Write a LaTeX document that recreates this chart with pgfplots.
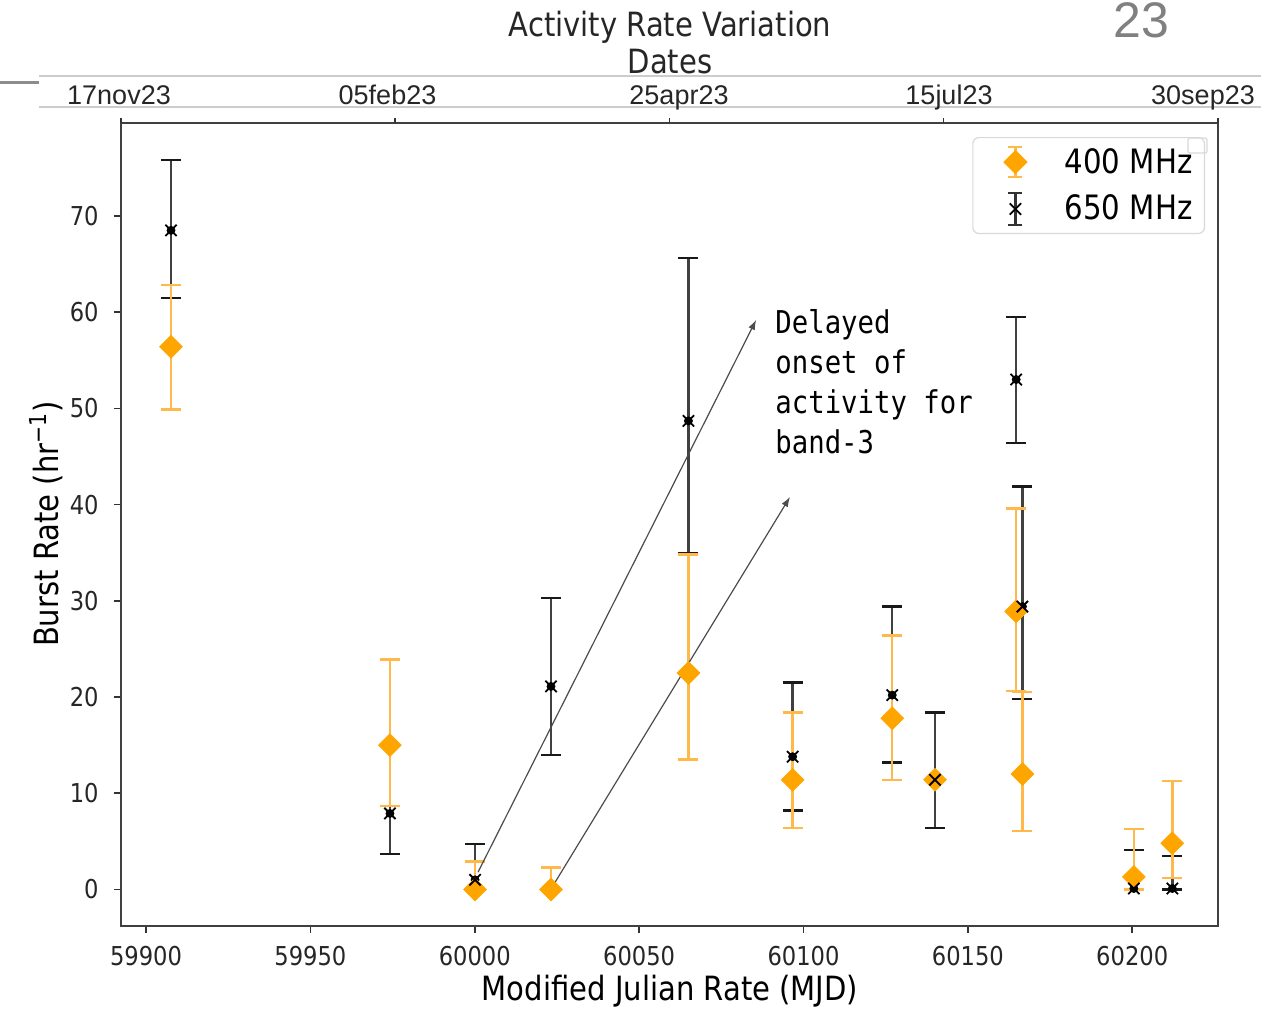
\documentclass[border=0pt]{standalone}
\usepackage{fontspec}
\setmainfont{DejaVu Sans}[FakeStretch=0.87]
\setmonofont{DejaVu Sans Mono}[FakeStretch=0.87]
\newfontfamily\datefont{Liberation Sans}
\usepackage{pgfplots}
\pgfplotsset{compat=1.18}
\usetikzlibrary{arrows.meta}
\definecolor{mplorange}{HTML}{FFA500}
\definecolor{errorange}{HTML}{FFB84A}
\pgfplotstableread{
x y up down
59907.6 68.5 7.3 7.0
59974.2 7.9 7.1 4.2
60000.1 1.0 3.7 1.0
60023.2 21.1 9.2 7.1
60065.0 48.7 16.9 13.8
60096.7 13.8 7.7 5.6
60127.0 20.2 9.2 7.0
60140.0 11.4 7.0 5.0
60164.7 53.0 6.5 6.6
60166.6 29.4 12.5 9.6
60200.5 0.1 4.0 0.1
60212.2 0.1 3.4 0.1
}\blackdata
\pgfplotstableread{
x y up down
59907.6 56.4 6.4 6.5
59974.2 15.0 8.9 6.3
60000.1 0.0 2.9 0
60023.2 0.0 2.3 0
60065.0 22.5 12.3 9.0
60096.7 11.4 7.0 5.0
60127.0 17.8 8.6 6.4
60140.0 11.4 0 0
60164.7 28.9 10.7 8.3
60166.6 12.0 8.5 5.9
60200.5 1.3 5.0 1.3
60212.2 4.8 6.5 3.6
}\orangedata
\begin{document}
\begin{tikzpicture}
\begin{axis}[
  at={(60.35pt,-463pt)}, anchor=south west,
  scale only axis, width=548.65pt, height=401.7pt,
  xmin=59892.3, xmax=60226.1, ymin=-3.8, ymax=79.7,
  xtick={59900,59950,60000,60050,60100,60150,60200},
  ytick={0,10,20,30,40,50,60,70},
  tick align=outside, xtick pos=bottom, ytick pos=left,
  major tick length=3.5pt,
  every tick/.style={line width=0.8pt, black!80},
  axis line style={line width=1pt, black!75},
  tick label style={font=\fontsize{13}{15}\selectfont, black!85},
  xticklabel style={yshift=-3pt},
  yticklabel style={xshift=-4pt},
  /pgf/number format/assume math mode=true,
  /pgf/number format/set thousands separator={},
  scaled x ticks=false,
  clip=false,
  legend style={at={(0.98815,0.98208)}, anchor=north east, draw=black!15,
    rounded corners=3pt, line width=0.6pt, font=\fontsize{16.8}{18}\selectfont,
    inner xsep=4pt, inner ysep=3.25pt, row sep=5.5pt, column sep=17pt,
    cells={anchor=west}, nodes={inner sep=2pt}},
]
% black error bars (650 MHz) underneath
\addplot[black, only marks, mark=none, forget plot,
  error bars/.cd, y dir=both, y explicit,
  error bar style={line width=1.2pt, black!75},
  error mark options={rotate=90, mark size=5pt, line width=1.2pt, black!90}]
  table[x=x, y=y, y error plus=up, y error minus=down] {\blackdata};
% orange 400 MHz
\addplot[mplorange, only marks, mark=square*, mark size=4pt,
  mark options={rotate=45, fill=mplorange, draw=mplorange},
  legend image code/.code={
    \draw[errorange, line width=1.2pt] (0pt,-7.5pt) -- (0pt,7.5pt) (-3.5pt,-7.5pt) -- (3.5pt,-7.5pt) (-3.5pt,7.5pt) -- (3.5pt,7.5pt);
    \path (-17pt,0pt) (5pt,0pt);
    \draw[only marks] plot coordinates {(0pt,0pt)};
  },
  error bars/.cd, y dir=both, y explicit,
  error bar style={line width=1.2pt, errorange},
  error mark options={rotate=90, mark size=5pt, line width=1.2pt, errorange}]
  table[x=x, y=y, y error plus=up, y error minus=down] {\orangedata};
\addlegendentry{400 MHz}
% black markers on top
\addplot[black, only marks, mark=x, mark size=4pt,
  mark options={line width=0.9pt, black},
  legend image code/.code={
    \draw[black!80, line width=1.2pt] (0pt,-8pt) -- (0pt,8pt) (-3.5pt,-8pt) -- (3.5pt,-8pt) (-3.5pt,8pt) -- (3.5pt,8pt);
    \path (-17pt,0pt) (5pt,0pt);
    \draw[only marks] plot coordinates {(0pt,0pt)};
  }]
  table[x=x, y=y] {\blackdata};
\addlegendentry{650 MHz}
% annotation arrows
\draw[-{Latex[length=5pt,width=3.5pt]}, line width=0.6pt, black!70] (axis cs:60001,1.8) -- (axis cs:60085.6,59.2);
\draw[-{Latex[length=5pt,width=3.5pt]}, line width=0.6pt, black!70] (axis cs:60024,0.5) -- (axis cs:60095.9,40.8);
% top ticks
\draw[line width=0.8pt, black!80] (axis cs:59975.75,79.7) -- ++(0pt,2.5pt);
\draw[line width=0.8pt, black!80] (axis cs:60059.2,79.7) -- ++(0pt,2.5pt);
\draw[line width=0.8pt, black!80] (axis cs:60142.65,79.7) -- ++(0pt,2.5pt);
\draw[line width=0.8pt, black!80] (axis cs:59892.3,79.7) -- ++(0pt,2.5pt);
\draw[line width=0.8pt, black!80] (axis cs:60226.1,79.7) -- ++(0pt,2.5pt);
\end{axis}
% annotation text
\begin{scope}[every node/.style={anchor=base west, inner sep=0pt, font=\ttfamily\fontsize{15.7}{18}\selectfont}]
\node at (387.5pt,-166.5pt) {Delayed};
\node at (387.5pt,-186.5pt) {onset of};
\node at (387.5pt,-206.5pt) {activity for};
\node at (387.5pt,-226.5pt) {band-3};
\end{scope}
% legend extra square
\draw[black!15, line width=0.6pt, rounded corners=1pt] (594pt,-69pt) rectangle (603.5pt,-76.5pt);
% axis labels
\node[rotate=90, font=\fontsize{16.7}{20}\selectfont] at (23pt,-262pt) {Burst Rate (hr\textsuperscript{\char"2212 1})};
\node[font=\fontsize{16.7}{20}\selectfont] at (335pt,-495.5pt) {Modified Julian Rate (MJD)};
% title and top labels
\node[anchor=base, font=\fontsize{16.7}{20}\selectfont, text=black!85] at (335pt,-18pt) {Activity Rate Variation};
\node[anchor=base, font=\fontsize{16.7}{20}\selectfont, text=black!85] at (335pt,-36.5pt) {Dates};
\draw[black!20, line width=0.7pt] (19.5pt,-38pt) -- (630.5pt,-38pt);
\draw[black!20, line width=0.7pt] (19.5pt,-53.5pt) -- (630.5pt,-53.5pt);
\draw[black!45, line width=1.5pt] (0pt,-41pt) -- (19.5pt,-41pt);
\begin{scope}[every node/.style={anchor=base, inner sep=0pt, font=\datefont\fontsize{13.5}{15}\selectfont, text=black!85}]
\node at (59.5pt,-52pt) {17nov23};
\node at (193.75pt,-52pt) {05feb23};
\node at (339.5pt,-52pt) {25apr23};
\node at (474.5pt,-52pt) {15jul23};
\node at (601.5pt,-52pt) {30sep23};
\end{scope}
\node[anchor=base, inner sep=0pt, text=gray] at (570.5pt,-18.5pt) {\datefont\fontsize{25}{25}\selectfont 23};
\pgfresetboundingbox
\path[use as bounding box] (0pt,0pt) rectangle (630.5pt,-504.5pt);
\end{tikzpicture}
\end{document}
